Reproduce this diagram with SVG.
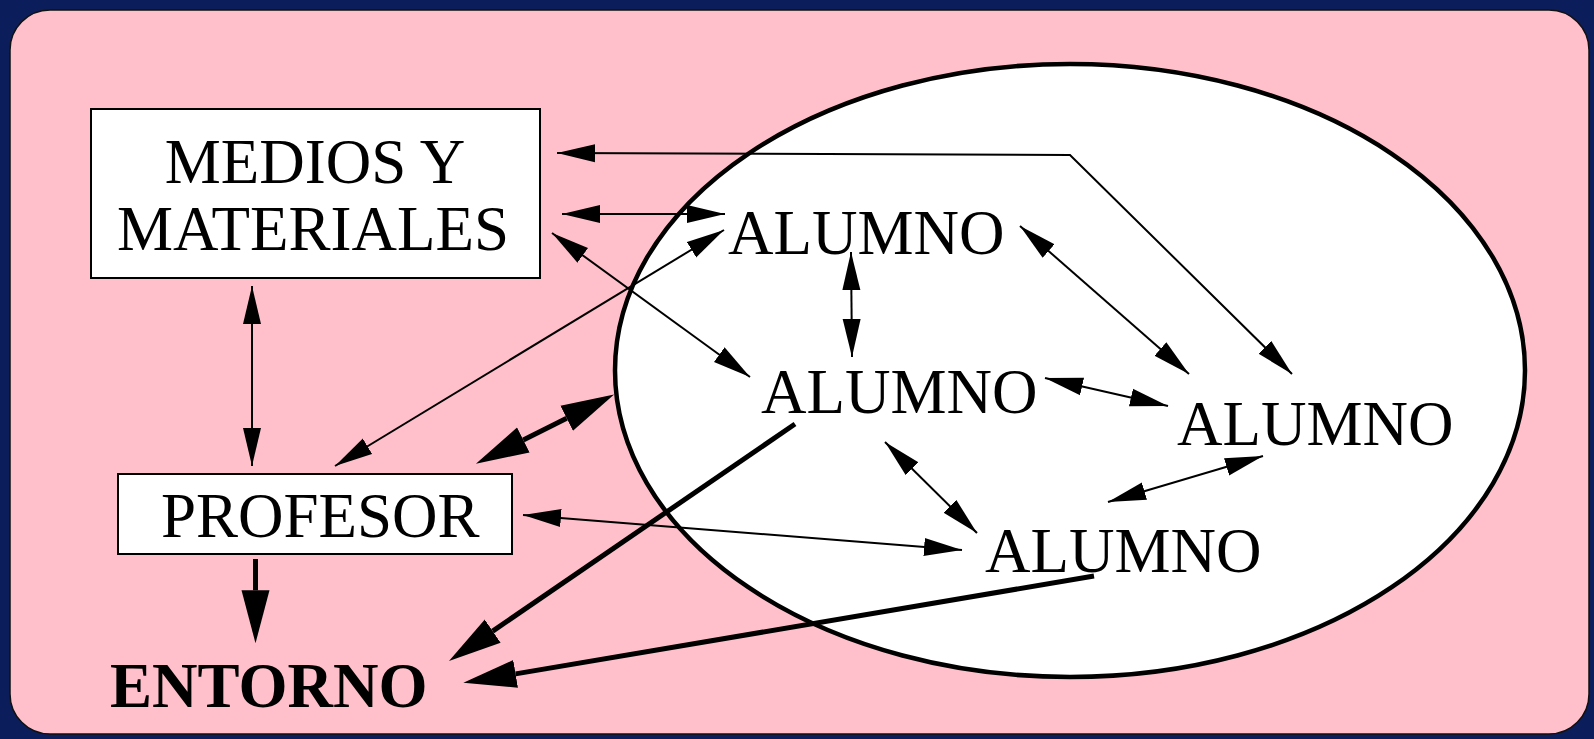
<svg xmlns="http://www.w3.org/2000/svg" width="1594" height="739" viewBox="0 0 1594 739">
  <defs>
    <style>
      .lbl { font-family: "Liberation Serif", "Times New Roman", serif; font-size: 63px; fill: #000; }
      .bold { font-weight: bold; }
      .box { fill: #fff; stroke: #000; stroke-width: 2; }
      .thin { fill: none; stroke: #000; stroke-width: 2; marker-start: url(#hs); marker-end: url(#hs); }
      .thin-end { fill: none; stroke: #000; stroke-width: 2; marker-end: url(#hs); }
      .thick { fill: none; stroke: #000; stroke-width: 5; marker-end: url(#hb); }
      .thick2 { fill: none; stroke: #000; stroke-width: 5; marker-start: url(#hb); marker-end: url(#hb); }
    </style>
    <marker id="hs" markerUnits="userSpaceOnUse" markerWidth="40" markerHeight="20" viewBox="0 -10 40 20" refX="38" refY="0" orient="auto-start-reverse">
      <path d="M0,-9 L38,0 L0,9 z" fill="#000"/>
    </marker>
    <marker id="hb" markerUnits="userSpaceOnUse" markerWidth="56" markerHeight="30" viewBox="0 -15 56 30" refX="0" refY="0" orient="auto-start-reverse">
      <path d="M0,-14 L53,0 L0,14 z" fill="#000"/>
    </marker>
  </defs>

  <rect x="0" y="0" width="1594" height="739" fill="#0b1e5b"/>
  <rect x="10" y="10" width="1579" height="724" rx="40" ry="40" fill="#ffc0cb" stroke="#111" stroke-width="1.5"/>

  <g id="grupo-alumnos">
    <ellipse cx="1070" cy="370.5" rx="455" ry="306.5" fill="#fff" stroke="#000" stroke-width="4.5"/>
  </g>

  <g id="connectors">
    <path class="thin" d="M557,153 L1070,155 L1292,374"/>
    <path class="thin" d="M562,214 L725,214"/>
    <path class="thin" d="M552,233 L750,377"/>
    <path class="thin" d="M335,466 L724,230"/>
    <path class="thin" d="M252,286 L252,466"/>
    <path class="thin" d="M523,515 L962,550"/>
    <path class="thin" d="M851,252 L852,357"/>
    <path class="thin" d="M1020,226 L1189,374"/>
    <path class="thin" d="M1045,378 L1168,406"/>
    <path class="thin" d="M885,442 L977,533"/>
    <path class="thin" d="M1263,456 L1108,502"/>
    <path class="thick2" d="M523.3,440 L566.7,418.3"/>
    <path class="thick" d="M795,424 L492.7,631.1"/>
    <path class="thick" d="M1094,576 L515.6,673.9"/>
    <path class="thick" d="M255.5,559 L255.5,590.3"/>
  </g>

  <g id="medios">
    <rect class="box" x="91" y="109" width="449" height="169"/>
    <text class="lbl" x="315" y="183" text-anchor="middle">MEDIOS Y</text>
    <text class="lbl" x="313" y="250" text-anchor="middle">MATERIALES</text>
  </g>

  <g id="profesor">
    <rect class="box" x="118" y="474" width="394" height="80"/>
    <text class="lbl" x="161" y="537">PROFESOR</text>
  </g>

  <g id="entorno">
    <text class="lbl bold" x="110" y="707">ENTORNO</text>
  </g>

  <g id="alumno1">
    <text class="lbl" x="728" y="254">ALUMNO</text>
  </g>
  <g id="alumno2">
    <text class="lbl" x="761" y="413">ALUMNO</text>
  </g>
  <g id="alumno3">
    <text class="lbl" x="1177" y="445">ALUMNO</text>
  </g>
  <g id="alumno4">
    <text class="lbl" x="985" y="572">ALUMNO</text>
  </g>
</svg>
